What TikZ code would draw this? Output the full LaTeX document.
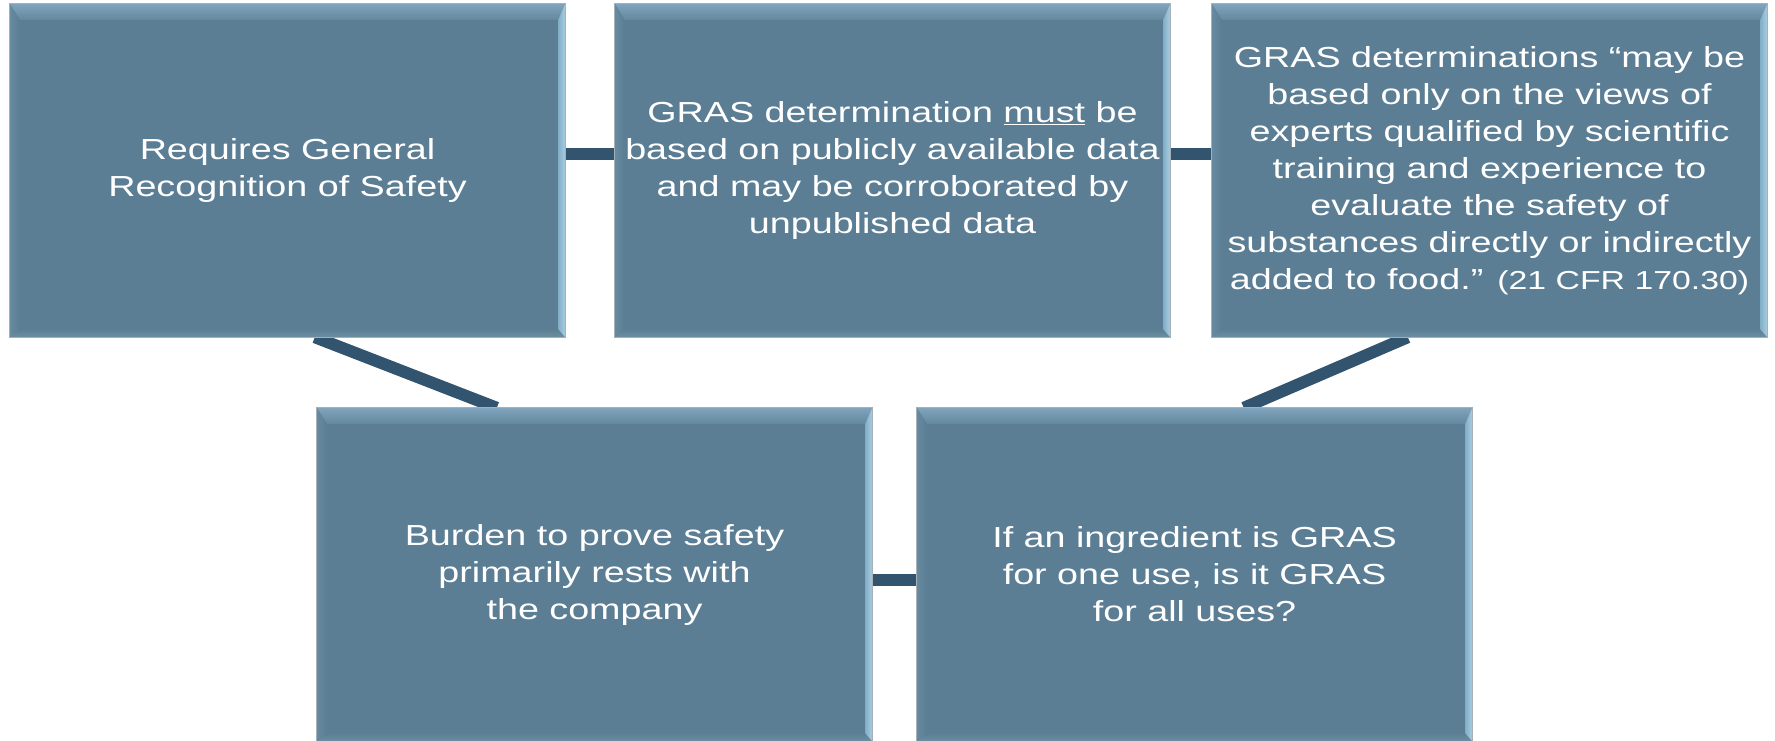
\documentclass[tikz,border=0pt]{standalone}
\usepackage{fontspec}
\setmainfont[FakeStretch=1.3]{Liberation Sans}
\usetikzlibrary{backgrounds,calc}

\definecolor{boxfill}{RGB}{91,126,148}
\definecolor{linkcol}{RGB}{50,84,110}
\definecolor{rimline}{RGB}{165,176,184}

\tikzset{
  stepbox/.style={rectangle, fill=boxfill, minimum width=555pt, minimum height=333pt,
    inner sep=0pt, text=white, align=center, font=\fontsize{29}{37}\selectfont},
  link/.style={line width=12pt, draw=linkcol},
}

% bevelled rim drawn over a box node
\newcommand\bevelrim[1]{%
  \shade[top color={rgb,255:red,128;green,164;blue,189}, middle color={rgb,255:red,180;green,216;blue,238},
         bottom color={rgb,255:red,100;green,136;blue,158}]
    (#1.north west) -- (#1.north east) -- ([xshift=-7pt,yshift=-16pt]#1.north east)
    -- ([xshift=10pt,yshift=-16pt]#1.north west) -- cycle;
  \shade[left color={rgb,255:red,102;green,138;blue,160}, middle color={rgb,255:red,128;green,164;blue,186},
         right color=boxfill]
    (#1.north west) -- ([xshift=10pt,yshift=-16pt]#1.north west)
    -- ([xshift=10pt,yshift=8pt]#1.south west) -- (#1.south west) -- cycle;
  \shade[top color=boxfill, bottom color={rgb,255:red,108;green,142;blue,162}]
    (#1.south west) -- ([xshift=10pt,yshift=8pt]#1.south west)
    -- ([xshift=-7pt,yshift=8pt]#1.south east) -- (#1.south east) -- cycle;
  \shade[left color={rgb,255:red,130;green,175;blue,200}, middle color={rgb,255:red,228;green,244;blue,253},
         right color={rgb,255:red,168;green,204;blue,224}]
    (#1.north east) -- ([xshift=-7pt,yshift=-16pt]#1.north east)
    -- ([xshift=-7pt,yshift=8pt]#1.south east) -- (#1.south east) -- cycle;
  \draw[rimline, line width=1pt] (#1.north west) rectangle (#1.south east);
}

\begin{document}
\begin{tikzpicture}[x=1pt, y=-1pt]
  \useasboundingbox (0,0) rectangle (1775,740);
  \clip (0,0) rectangle (1775,740);

  % top row
  \node[stepbox] (b1) at (287.5,170.5) {Requires General\\Recognition of Safety};
  \bevelrim{b1}
  \node[stepbox] (b2) at (892.5,170.5)
    {GRAS determination \underline{must} be\\based on publicly available data\\and may be corroborated by\\unpublished data};
  \bevelrim{b2}
  \node[stepbox] (b3) at (1489.5,170.5)
    {GRAS determinations “may be\\based only on the views of\\experts qualified by scientific\\training and experience to\\evaluate the safety of\\substances directly or indirectly\\added to food.” {\fontsize{26}{37}\selectfont(21 CFR 170.30)}};
  \bevelrim{b3}

  % bottom row
  \node[stepbox] (b4) at (594.5,574.5) {Burden to prove safety\\primarily rests with\\the company};
  \bevelrim{b4}
  \node[stepbox] (b5) at (1194.5,574.5) {If an ingredient is GRAS\\for one use, is it GRAS\\for all uses?};
  \bevelrim{b5}

  % connectors behind the boxes
  \begin{scope}[on background layer]
    \draw[link] ([yshift=17pt]b1.east) -- ([yshift=17pt]b2.west);
    \draw[link] ([yshift=17pt]b2.east) -- ([yshift=17pt]b3.west);
    \draw[link] ([xshift=305pt]b1.south west) -- ([xshift=180pt]b4.north west);
    \draw[link] ([xshift=196pt]b3.south west) -- ([xshift=327pt]b5.north west);
    \draw[link] ([yshift=-5.5pt]b4.east) -- ([yshift=-5.5pt]b5.west);
  \end{scope}
\end{tikzpicture}
\end{document}
